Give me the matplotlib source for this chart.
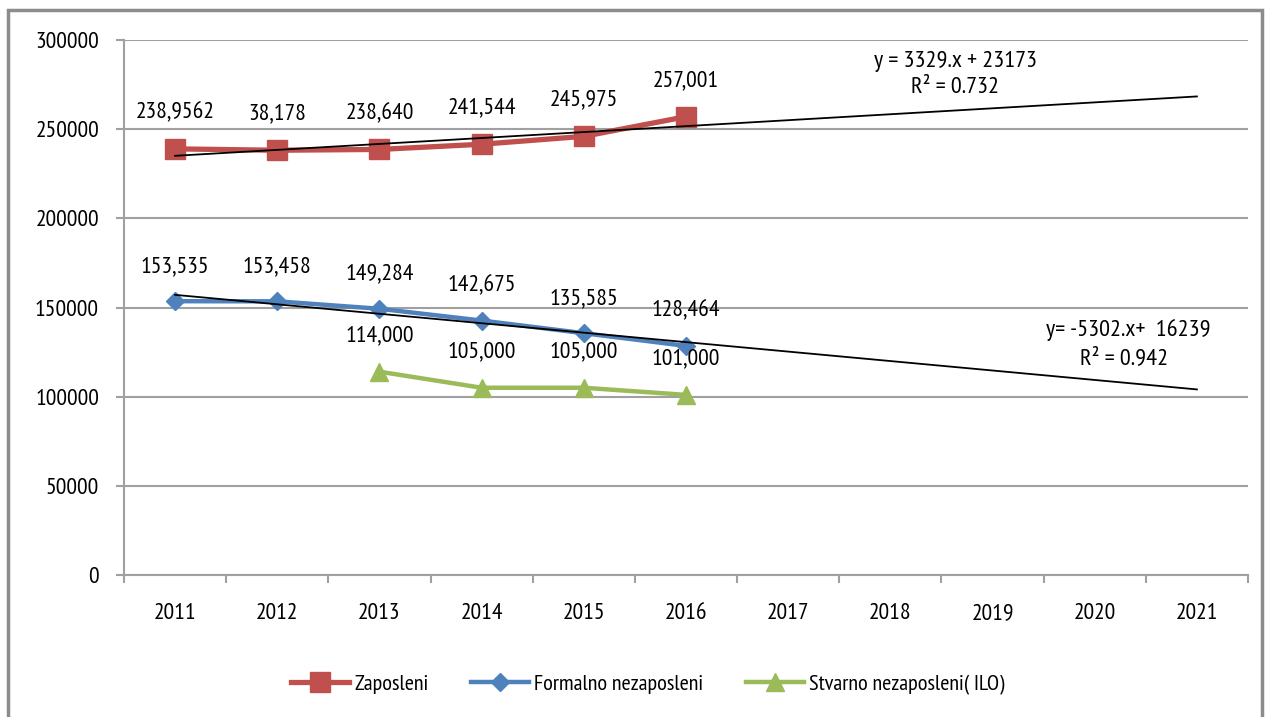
import numpy as np
import matplotlib
matplotlib.use("Agg")
import matplotlib.pyplot as plt
from matplotlib.patches import Rectangle
from matplotlib.ticker import FixedLocator, NullFormatter, FixedFormatter

plt.rcParams["font.family"] = ["PT Sans Narrow", "DejaVu Sans"]

years = ["2011", "2012", "2013", "2014", "2015", "2016",
         "2017", "2018", "2019", "2020", "2021"]
zaposleni = [238956, 238178, 238640, 241544, 245975, 257001]
zaposleni_lbl = ["238,9562", "38,178", "238,640", "241,544", "245,975", "257,001"]
formalno = [153535, 153458, 149284, 142675, 135585, 128464]
formalno_lbl = ["153,535", "153,458", "149,284", "142,675", "135,585", "128,464"]
stvarno_years = [2, 3, 4, 5]
stvarno = [114000, 105000, 105000, 101000]
stvarno_lbl = ["114,000", "105,000", "105,000", "101,000"]

RED, BLUE, GREEN = "#C0504D", "#4F81BD", "#9BBB59"
GRID = "#a0a0a0"

fig = plt.figure(figsize=(12.67, 7.17), dpi=100)
fig.patches.append(Rectangle((8 / 1267, -0.05), 1254 / 1267, 1.05 - 10 / 717,
                             transform=fig.transFigure, fill=False,
                             ec="#8c8c8c", lw=2.5))
ax = fig.add_axes([124 / 1267, 1 - 575 / 717, 1124 / 1267, 535 / 717])

x6 = np.arange(6)
ax.plot(x6, zaposleni, color=RED, lw=3.8, marker="s", ms=14, zorder=3,
        label="Zaposleni")
ax.plot(x6, formalno, color=BLUE, lw=3.2, marker="D", ms=9, zorder=3,
        label="Formalno nezaposleni")
ax.plot(stvarno_years, stvarno, color=GREEN, lw=3.2, marker="^", ms=13, zorder=3,
        label="Stvarno nezaposleni( ILO)")

# linear trend lines (x = 1..6), extended to 2021
xt = np.arange(1, 7)
xe = np.array([1, 11])
for vals in (zaposleni, formalno):
    k, b = np.polyfit(xt, vals, 1)
    ax.plot(xe - 1, k * xe + b, color="black", lw=1.3, zorder=4)

for xs, vals, lbls, off in ((x6, zaposleni, zaposleni_lbl, 26),
                            (x6, formalno, formalno_lbl, 25),
                            (stvarno_years, stvarno, stvarno_lbl, 26)):
    for xi, v, t in zip(xs, vals, lbls):
        ax.annotate(t, (xi, v), xytext=(0, off), textcoords="offset points",
                    ha="center", va="center", fontsize=17)

ax.text(7.64, 287700, "y = 3329.x + 23173", ha="center", va="center", fontsize=17.5)
ax.text(7.63, 273100, "R² = 0.732", ha="center", va="center", fontsize=17.5)
ax.text(9.33, 137400, "y= -5302.x+  16239", ha="center", va="center", fontsize=17.5)
ax.text(9.29, 121200, "R² = 0.942", ha="center", va="center", fontsize=17.5)

ax.set_xlim(-0.5, 10.5)
ax.set_ylim(0, 300000)
ax.set_yticks(np.arange(0, 300001, 50000))
ax.yaxis.set_major_formatter(FixedFormatter([str(v) for v in range(0, 300001, 50000)]))
ax.xaxis.set_major_locator(FixedLocator(np.arange(-0.5, 10.6, 1)))
ax.xaxis.set_major_formatter(NullFormatter())
ax.xaxis.set_minor_locator(FixedLocator(np.arange(11)))
ax.xaxis.set_minor_formatter(FixedFormatter(years))
ax.tick_params(axis="x", which="major", length=6, color=GRID, width=1.5)
ax.tick_params(axis="x", which="minor", length=0, pad=20, labelsize=17)
ax.tick_params(axis="y", length=6, color=GRID, width=1.5, pad=12, labelsize=17)
ax.grid(axis="y", color=GRID, lw=1.5)
ax.set_axisbelow(True)
for s in ("top", "right"):
    ax.spines[s].set_visible(False)
for s in ("left", "bottom"):
    ax.spines[s].set_color(GRID)
    ax.spines[s].set_linewidth(1.5)

ax.legend(loc="center", bbox_to_anchor=(0.466, -0.205), ncol=3, frameon=False,
          fontsize=16, handlelength=2.6, handletextpad=0.25, columnspacing=1.9)

fig.savefig("out.png", dpi=100)
